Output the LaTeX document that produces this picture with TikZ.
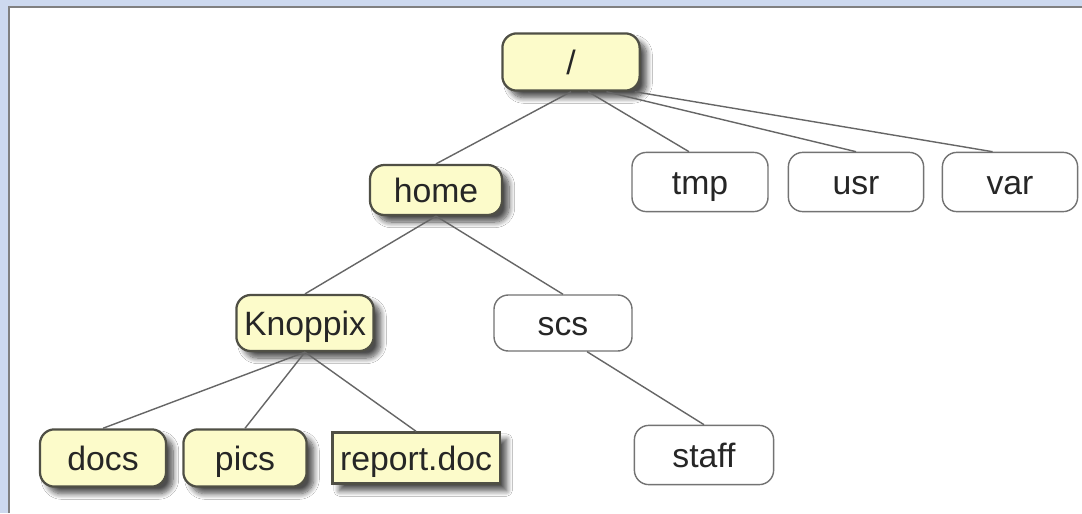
\documentclass[tikz,border=0pt]{standalone}
\usepackage{fontspec}
\setmainfont{Liberation Sans}
\usetikzlibrary{shadows.blur}

\definecolor{framebg}{HTML}{CDD9EF}
\definecolor{dirfill}{HTML}{FCFBCA}
\definecolor{dirline}{HTML}{4F4F45}

\begin{document}
\begin{tikzpicture}[x=0.025cm, y=-0.025cm,
  font=\fontsize{24}{28}\selectfont,
  dir/.style={draw=dirline, line width=1.6pt, fill=dirfill, rounded corners=0.36cm,
              inner sep=0pt, text=black!85, text height=17.5pt, text depth=0pt,
              blur shadow={shadow xshift=5pt, shadow yshift=-5pt, shadow blur steps=10,
                           shadow blur radius=4pt, shadow opacity=70}},
  file/.style={dir, rounded corners=0pt},
  plain/.style={draw=black!55, line width=1pt, fill=white, rounded corners=0.36cm,
                inner sep=0pt, text=black!85, text height=17.5pt, text depth=0pt},
  link/.style={draw=black!60, line width=1pt},
]

% Frame
\useasboundingbox (0,0) rectangle (1082,513);
\fill[framebg] (0,0) rectangle (1082,513);
\fill[white] (9,7) rectangle (1082,513);
\draw[black!50, line width=1.4pt] (9,513) -- (9,7) -- (1082,7);

% Directories
\node[dir, minimum width=3.43cm, minimum height=1.43cm] (root) at (571,62) {/};
\node[dir, minimum width=3.30cm, minimum height=1.25cm] (home) at (436,190) {home};
\node[dir, minimum width=3.43cm, minimum height=1.40cm] (knoppix) at (305,323) {Knoppix};
\node[dir, minimum width=3.15cm, minimum height=1.43cm] (docs) at (103,458) {docs};
\node[dir, minimum width=3.08cm, minimum height=1.43cm] (pics) at (245,458) {pics};
\node[file, minimum width=4.18cm, minimum height=1.28cm] (report) at (416,458) {report.doc};

% Other directories
\node[plain, minimum width=3.40cm, minimum height=1.48cm] (tmp) at (700,182) {tmp};
\node[plain, minimum width=3.38cm, minimum height=1.48cm] (usr) at (856,182) {usr};
\node[plain, minimum width=3.38cm, minimum height=1.48cm] (var) at (1010,182) {var};
\node[plain, minimum width=3.45cm, minimum height=1.40cm] (scs) at (563,323) {scs};
\node[plain, minimum width=3.48cm, minimum height=1.48cm] (staff) at (704,455) {staff};

% Links
\draw[link] (root.south) -- (home.north);
\draw[link] (root.-60) -- (tmp.110);
\draw[link] (root.-40) -- (usr.north);
\draw[link] (root.-25) -- (var.120);
\draw[link] (home.south) -- (knoppix.north);
\draw[link] (home.south) -- (scs.north);
\draw[link] (knoppix.south) -- (docs.north);
\draw[link] (knoppix.south) -- (pics.north);
\draw[link] (knoppix.south) -- (report.north);
\draw[link] (scs.-50) -- (staff.north);

\end{tikzpicture}
\end{document}
